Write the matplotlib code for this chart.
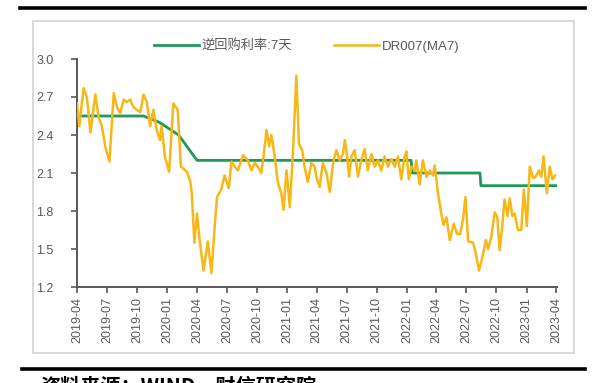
import matplotlib
matplotlib.use("Agg")
import matplotlib.pyplot as plt
import matplotlib.dates as mdates
from matplotlib.lines import Line2D
from matplotlib.patches import Rectangle
import pandas as pd

plt.rcParams["font.family"] = ["Liberation Sans", "Noto Sans CJK SC", "DejaVu Sans"]

# 7-day reverse repo rate (policy rate)
repo_dates = ["2019-04-01", "2019-10-21", "2019-12-08", "2020-02-05", "2020-04-01",
              "2022-01-14", "2022-01-17", "2022-08-12", "2022-08-15", "2023-04-03"]
repo_rate = [2.55, 2.55, 2.50, 2.40, 2.20, 2.20, 2.10, 2.10, 2.00, 2.00]

# DR007, 7-day moving average
dr_dates = [
    "2019-04-01", "2019-04-08", "2019-04-21", "2019-05-01", "2019-05-12", "2019-05-27",
    "2019-06-06", "2019-06-16", "2019-06-26", "2019-07-09", "2019-07-22", "2019-08-01",
    "2019-08-11", "2019-08-21", "2019-08-31", "2019-09-10", "2019-09-20", "2019-09-30",
    "2019-10-11", "2019-10-21", "2019-10-31", "2019-11-10", "2019-11-20", "2019-11-30",
    "2019-12-10", "2019-12-15", "2019-12-25", "2020-01-07", "2020-01-20", "2020-02-02",
    "2020-02-12", "2020-03-01", "2020-03-11", "2020-03-16", "2020-03-24", "2020-04-01",
    "2020-04-09", "2020-04-21", "2020-05-04", "2020-05-15", "2020-05-25", "2020-06-01",
    "2020-06-14", "2020-06-24", "2020-07-07", "2020-07-15", "2020-07-25", "2020-08-04",
    "2020-08-19", "2020-09-03", "2020-09-14", "2020-09-24", "2020-10-04", "2020-10-14",
    "2020-10-21", "2020-10-30", "2020-11-07", "2020-11-14", "2020-11-24", "2020-12-04",
    "2020-12-14", "2020-12-21", "2020-12-30", "2021-01-09", "2021-01-19", "2021-01-29",
    "2021-02-06", "2021-02-16", "2021-02-23", "2021-03-05", "2021-03-16", "2021-03-26",
    "2021-03-31", "2021-04-10", "2021-04-20", "2021-05-01", "2021-05-11", "2021-05-21",
    "2021-05-31", "2021-06-10", "2021-06-20", "2021-06-26", "2021-07-02", "2021-07-09",
    "2021-07-16", "2021-07-26", "2021-08-05", "2021-08-15", "2021-08-25", "2021-09-04",
    "2021-09-15", "2021-09-25", "2021-10-05", "2021-10-15", "2021-10-25", "2021-11-04",
    "2021-11-15", "2021-11-25", "2021-12-05", "2021-12-15", "2021-12-25", "2021-12-31",
    "2022-01-07", "2022-01-15", "2022-01-25", "2022-01-30", "2022-02-09", "2022-02-19",
    "2022-03-02", "2022-03-12", "2022-03-22", "2022-03-27", "2022-04-06", "2022-04-16",
    "2022-04-23", "2022-05-02", "2022-05-12", "2022-05-24", "2022-06-03", "2022-06-13",
    "2022-06-21", "2022-06-29", "2022-07-07", "2022-07-22", "2022-07-30", "2022-08-09",
    "2022-08-20", "2022-08-30", "2022-09-06", "2022-09-16", "2022-09-26", "2022-10-04",
    "2022-10-11", "2022-10-19", "2022-10-26", "2022-11-04", "2022-11-11", "2022-11-19",
    "2022-11-26", "2022-12-06", "2022-12-16", "2022-12-24", "2023-01-02", "2023-01-11",
    "2023-01-21", "2023-01-29", "2023-02-08", "2023-02-15", "2023-02-22", "2023-03-04",
    "2023-03-13", "2023-03-21", "2023-03-29",
]
dr_values = [
    2.65, 2.47, 2.77, 2.70, 2.42, 2.72,
    2.54, 2.47, 2.31, 2.19, 2.73, 2.62,
    2.57, 2.68, 2.66, 2.68, 2.62, 2.60,
    2.58, 2.72, 2.66, 2.47, 2.60, 2.44,
    2.36, 2.47, 2.23, 2.11, 2.65, 2.60,
    2.15, 2.11, 2.04, 1.94, 1.55, 1.78,
    1.57, 1.33, 1.56, 1.31, 1.68, 1.91,
    1.97, 2.08, 1.98, 2.19, 2.15, 2.12,
    2.24, 2.20, 2.12, 2.18, 2.15, 2.10,
    2.23, 2.44, 2.31, 2.40, 2.23, 2.02,
    1.94, 1.81, 2.12, 1.83, 2.28, 2.87,
    2.33, 2.28, 2.15, 2.03, 2.18, 2.15,
    2.07, 1.99, 2.18, 2.10, 1.95, 2.18,
    2.28, 2.20, 2.25, 2.36, 2.25, 2.07,
    2.23, 2.28, 2.07, 2.20, 2.29, 2.12,
    2.25, 2.15, 2.20, 2.12, 2.23, 2.15,
    2.21, 2.15, 2.23, 2.05, 2.23, 2.27,
    2.05, 2.15, 2.12, 2.20, 2.01, 2.20,
    2.07, 2.12, 2.08, 2.16, 1.94, 1.78,
    1.69, 1.75, 1.57, 1.70, 1.62, 1.62,
    1.73, 1.91, 1.56, 1.55, 1.47, 1.33,
    1.44, 1.57, 1.50, 1.60, 1.79, 1.75,
    1.49, 1.68, 1.89, 1.76, 1.90, 1.76,
    1.78, 1.65, 1.65, 1.97, 1.68, 2.15,
    2.06, 2.07, 2.12, 2.07, 2.23, 1.94,
    2.15, 2.05, 2.08,
]

GREEN = "#1d9a57"
GOLD = "#f7b717"
GRAY = "#595959"

fig = plt.figure(figsize=(6.05, 3.83), dpi=100)
W, H = 605, 383

# outer frame lines and chart box (pixel positions converted to figure fraction)
fig.add_artist(Line2D([20 / W, 585 / W], [1 - 8 / H, 1 - 8 / H], color="black", linewidth=2.6))
fig.add_artist(Line2D([22 / W, 585 / W], [1 - 369 / H, 1 - 369 / H], color="black", linewidth=2.6))
fig.add_artist(Rectangle((33 / W, 1 - 353 / H), (574 - 33) / W, (353 - 21) / H,
                         fill=False, edgecolor="#d9d9d9", linewidth=1.5))

ax = fig.add_axes([77 / W, 1 - 287 / H, (557 - 77) / W, (287 - 59) / H])

repo_x = pd.to_datetime(repo_dates)
dr_x = pd.to_datetime(dr_dates)
ax.plot(repo_x, repo_rate, color=GREEN, linewidth=2.0, label="逆回购利率:7天", zorder=2)
ax.plot(dr_x, dr_values, color=GOLD, linewidth=1.8, label="DR007(MA7)", zorder=3)

ax.set_ylim(1.2, 3.0)
ax.set_yticks([1.2, 1.5, 1.8, 2.1, 2.4, 2.7, 3.0])
ax.set_xlim(pd.Timestamp("2019-04-01"), pd.Timestamp("2023-04-04"))
ax.xaxis.set_major_locator(mdates.MonthLocator(bymonth=[1, 4, 7, 10]))
ax.xaxis.set_major_formatter(mdates.DateFormatter("%Y-%m"))

for side in ("top", "right"):
    ax.spines[side].set_visible(False)
for side in ("left", "bottom"):
    ax.spines[side].set_color(GRAY)
    ax.spines[side].set_linewidth(1.4)
ax.tick_params(axis="both", colors=GRAY, labelcolor=GRAY, labelsize=9,
               direction="out", length=4, width=1.2)
ax.tick_params(axis="y", pad=13)
for lbl in ax.get_xticklabels():
    lbl.set_rotation(90)

ax.legend(loc="center", bbox_to_anchor=(0.478, 1.055), ncol=2, frameon=False,
          fontsize=9.5, labelcolor=GRAY, handlelength=3.4, columnspacing=3.2,
          handletextpad=0.2, borderpad=0)

fig.text(40 / W, 1 - 375 / H, "资料来源：WIND，财信研究院", fontsize=14.5,
         fontweight="bold", va="top", ha="left",
         family=["Noto Sans CJK SC", "DejaVu Sans"])

fig.savefig("out.png", dpi=100)
